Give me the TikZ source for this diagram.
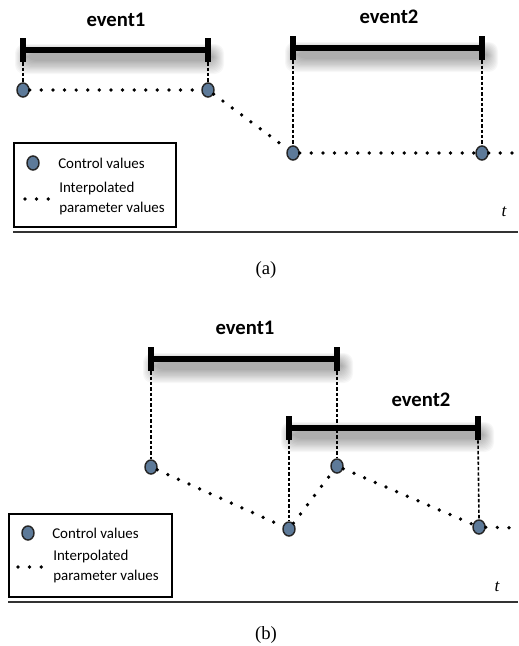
\documentclass[tikz,border=0pt]{standalone}
\usepackage{fontspec}
\setmainfont{Liberation Serif}
\newfontfamily\carl{Carlito}
\usetikzlibrary{shapes.geometric}
\definecolor{ctrlblue}{HTML}{5D7A99}
\newcommand\evshadow[3]{%
  \foreach \k in {0,...,11}{%
    \fill[black,opacity=0.03,rounded corners=7pt] (#1-8+\k,#3-6+0.8*\k) rectangle (#2+16-\k,#3+24-1.2*\k);
  }%
}
\begin{document}
\begin{tikzpicture}[x=0.75pt,y=-0.75pt,
  ctrl/.style={ellipse, draw=black!85, line width=1.1pt, fill=ctrlblue, minimum width=9pt, minimum height=10.5pt, inner sep=0pt},
  tickmark/.style={rectangle, fill=black, minimum width=4.5pt, minimum height=18pt, inner sep=0pt},
  evbar/.style={line width=4.5pt, black},
  guide/.style={line width=1.2pt, dash pattern=on 2.5pt off 1.5pt},
  interp/.style={line width=2.8pt, line cap=round, dash pattern=on 0pt off 8.7pt},
  evlabel/.style={font=\carl\bfseries\fontsize{15.5}{18}\selectfont, inner sep=0pt},
  legtext/.style={font=\carl\fontsize{11.2}{15}\selectfont, anchor=west, align=left, inner sep=0pt},
  legbox/.style={draw=black, line width=1.3pt, fill=white, anchor=north west, inner sep=0pt},
  axisline/.style={line width=1.6pt, black!80},
  tlabel/.style={font=\itshape\fontsize{13}{15}\selectfont, inner sep=0pt},
  caption/.style={font=\fontsize{14}{16}\selectfont, inner sep=0pt}
]
\useasboundingbox (0,0) rectangle (518,646);

%% ---------------- panel (a) ----------------
\evshadow{23}{208}{50}
\evshadow{293}{482}{48}
\node[evlabel] (ea1) at (116,20) {event1};
\node[evlabel] (ea2) at (389,17) {event2};
\node[tickmark] (a1l) at (23,50) {};
\node[tickmark] (a1r) at (208,50) {};
\node[tickmark] (a2l) at (293,48) {};
\node[tickmark] (a2r) at (482,48) {};
\node[ctrl] (ac1) at (23,90) {};
\node[ctrl] (ac2) at (208,90) {};
\node[ctrl] (ac3) at (293,153) {};
\node[ctrl] (ac4) at (482,153) {};
\coordinate (aend) at (520,153);
\draw[guide] (a1l.south) -- (ac1.north);
\draw[guide] (a1r.south) -- (ac2.north);
\draw[guide] (a2l.south) -- (ac3.north);
\draw[guide] (a2r.south) -- (ac4.north);
\draw[evbar] (a1l.center) -- (a1r.center);
\draw[evbar] (a2l.center) -- (a2r.center);
\draw[interp] (ac1) -- (ac2);
\draw[interp] (ac2) -- (ac3);
\draw[interp] (ac3) -- (ac4);
\draw[interp] (ac4) -- (aend);

\node[legbox, minimum width=121.5pt, minimum height=63pt] (lega) at (13,142) {};
\node[ctrl] (lac) at (33,163) {};
\node[legtext] (lat1) at (58,163) {Control values};
\coordinate (lad1) at (25,199);
\coordinate (lad2) at (49,199);
\draw[interp] (lad1) -- (lad2);
\node[legtext] (lat2) at (59,199) {Interpolated\\parameter values};

\node[tlabel] (ta) at (504,212) {t};
\coordinate (axa1) at (13,232);
\coordinate (axa2) at (518,232);
\draw[axisline] (axa1) -- (axa2);
\node[caption] (capa) at (266,270) {(a)};

%% ---------------- panel (b) ----------------
\evshadow{151}{337}{359}
\evshadow{289}{478}{428}
\node[evlabel] (eb1) at (245,328) {event1};
\node[evlabel] (eb2) at (421,400) {event2};
\node[tickmark] (b1l) at (151,359) {};
\node[tickmark] (b1r) at (337,359) {};
\node[tickmark] (b2l) at (289,428) {};
\node[tickmark] (b2r) at (478,428) {};
\node[ctrl] (bc1) at (151,467) {};
\node[ctrl] (bc2) at (289,529) {};
\node[ctrl] (bc3) at (337,466) {};
\node[ctrl] (bc4) at (479,527) {};
\coordinate (bend) at (520,528);
\draw[guide] (b1l.south) -- (bc1.north);
\draw[guide] (b1r.south) -- (bc3.north);
\draw[guide] (b2l.south) -- (bc2.north);
\draw[guide] (b2r.south) -- (bc4.north);
\draw[evbar] (b1l.center) -- (b1r.center);
\draw[evbar] (b2l.center) -- (b2r.center);
\draw[interp] (bc1) -- (bc2);
\draw[interp] (bc2) -- (bc3);
\draw[interp] (bc3) -- (bc4);
\draw[interp] (bc4) -- (bend);

\node[legbox, minimum width=122.25pt, minimum height=62.25pt] (legb) at (8,513) {};
\node[ctrl] (lbc) at (28,533) {};
\node[legtext] (lbt1) at (52,533) {Control values};
\coordinate (lbd1) at (18,567);
\coordinate (lbd2) at (42,567);
\draw[interp] (lbd1) -- (lbd2);
\node[legtext] (lbt2) at (53,567) {Interpolated\\parameter values};

\node[tlabel] (tb) at (497,587) {t};
\coordinate (axb1) at (8,602);
\coordinate (axb2) at (518,602);
\draw[axisline] (axb1) -- (axb2);
\node[caption] (capb) at (266,635) {(b)};
\end{tikzpicture}
\end{document}
